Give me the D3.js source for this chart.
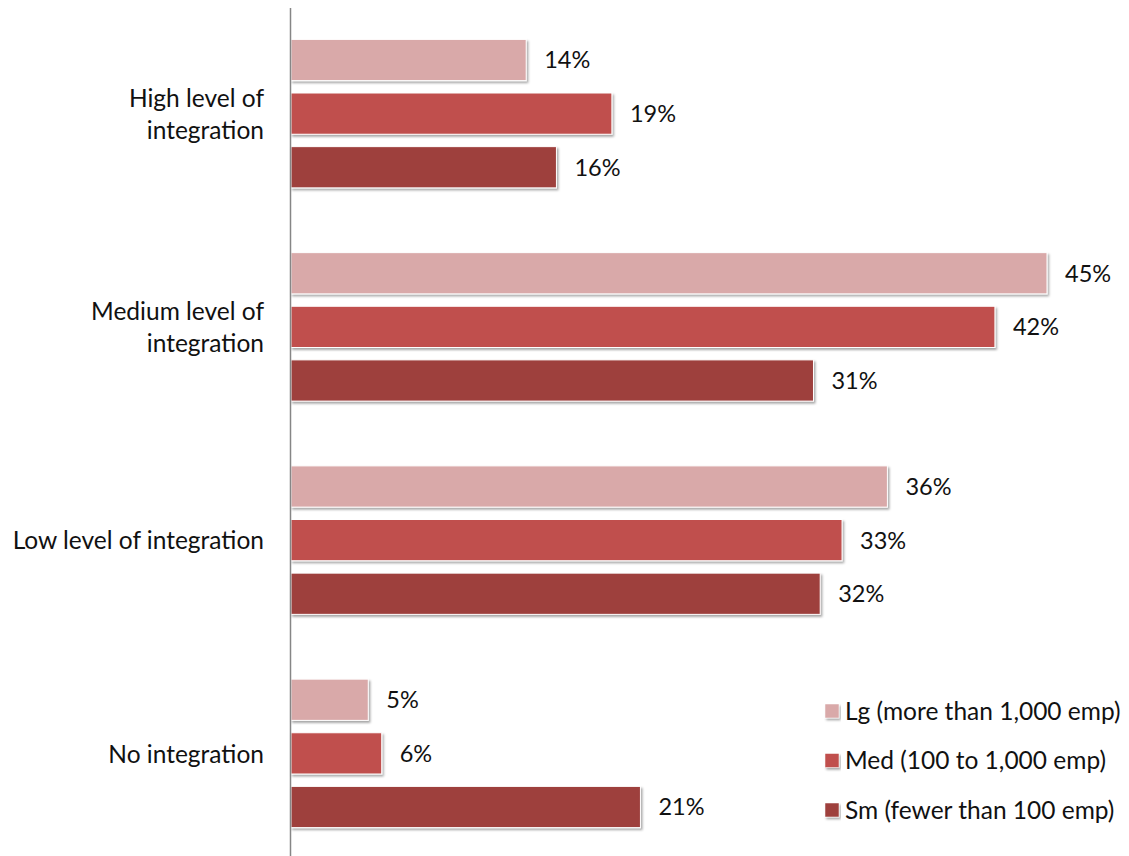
<!DOCTYPE html>
<html>
<head>
<meta charset="utf-8">
<script src="https://cdn.jsdelivr.net/npm/d3@7/dist/d3.min.js"></script>
<style>
  html, body { margin: 0; padding: 0; background: #fff; }
  svg { display: block; }
  text { font-family: Lato, "Open Sans", sans-serif; fill: #111; }
</style>
</head>
<body>
<svg id="chart" width="1129" height="856"></svg>
<script>
const categories = [
  ["High level of", "integration"],
  ["Medium level of", "integration"],
  ["Low level of integration"],
  ["No integration"]
];
const series = ["Lg (more than 1,000 emp)", "Med (100 to 1,000 emp)", "Sm (fewer than 100 emp)"];
// values
const lgValues  = [14.0, 45.0, 35.5, 4.6];
const medValues = [19.1, 41.9, 32.8, 5.4];
const smValues  = [15.8, 31.1, 31.5, 20.8];
// printed data labels
const lgLabels  = ["14%", "45%", "36%", "5%"];
const medLabels = ["19%", "42%", "33%", "6%"];
const smLabels  = ["16%", "31%", "32%", "21%"];
const colors = ["#D9A9A9", "#C0504D", "#9E403E"];

const allValues = [lgValues, medValues, smValues];
const allLabels = [lgLabels, medLabels, smLabels];
const svg = d3.select("#chart");
const x0 = 291;

const defs = svg.append("defs");
const f = defs.append("filter").attr("id", "shadow").attr("x", "-5%").attr("y", "-20%").attr("width", "115%").attr("height", "160%");
f.append("feDropShadow").attr("dx", 1.5).attr("dy", 2).attr("stdDeviation", 1.2).attr("flood-color", "#000").attr("flood-opacity", 0.35);

const catIdx = categories.map((d, i) => i);
const y = d3.scaleBand().domain(catIdx).range([7, 860]).paddingInner(0).paddingOuter(0);
const ySub = d3.scaleBand().domain([0, 1, 2]).range([0, y.bandwidth()]).paddingInner(0.231).paddingOuter(0.604);
const x = d3.scaleLinear().domain([0, 45]).range([x0, x0 + 45 * 16.8]);

const groups = svg.selectAll("g.grp").data(catIdx).join("g")
  .attr("class", "grp")
  .attr("transform", i => `translate(0,${y(i)})`);

groups.each(function(ci) {
  const g = d3.select(this);
  const rows = series.map((s, si) => ({ si, v: allValues[si][ci], lab: allLabels[si][ci] }));
  g.selectAll("rect").data(rows).join("rect")
    .attr("x", x(0))
    .attr("y", d => ySub(d.si))
    .attr("width", d => x(d.v) - x(0))
    .attr("height", ySub.bandwidth())
    .attr("fill", d => colors[d.si])
    .attr("stroke", "#fff")
    .attr("stroke-width", 1)
    .attr("filter", "url(#shadow)");
  g.selectAll("text.val").data(rows).join("text")
    .attr("class", "val")
    .attr("x", d => x(d.v) + 18)
    .attr("y", d => ySub(d.si) + ySub.bandwidth() / 2)
    .attr("dy", "0.36em")
    .attr("font-size", 23.5)
    .text(d => d.lab);
  const lines = categories[ci];
  const lh = 32;
  const t = g.append("text")
    .attr("text-anchor", "end")
    .attr("font-size", 24.5);
  lines.forEach((l, li) => {
    t.append("tspan")
      .attr("x", 264)
      .attr("y", y.bandwidth() / 2 - (lines.length - 1) * lh / 2 + li * lh)
      .attr("dy", "0.38em")
      .text(l);
  });
});

// axis line
svg.append("line")
  .attr("x1", 290.5).attr("x2", 290.5)
  .attr("y1", 8).attr("y2", 856)
  .attr("stroke", "#868686").attr("stroke-width", 1.5);

// legend
const leg = svg.append("g").attr("transform", "translate(825,711)");
const li = leg.selectAll("g").data(series).join("g")
  .attr("transform", (d, i) => `translate(0,${i * 49.5})`);
li.append("rect")
  .attr("x", 0).attr("y", -7).attr("width", 14).attr("height", 14)
  .attr("fill", (d, i) => colors[i])
  .attr("stroke", "#fff").attr("stroke-width", 0.5)
  .attr("filter", "url(#shadow)");
li.append("text")
  .attr("x", 20).attr("y", 0).attr("dy", "0.36em")
  .attr("font-size", 24.5)
  .text(d => d);
</script>
</body>
</html>
